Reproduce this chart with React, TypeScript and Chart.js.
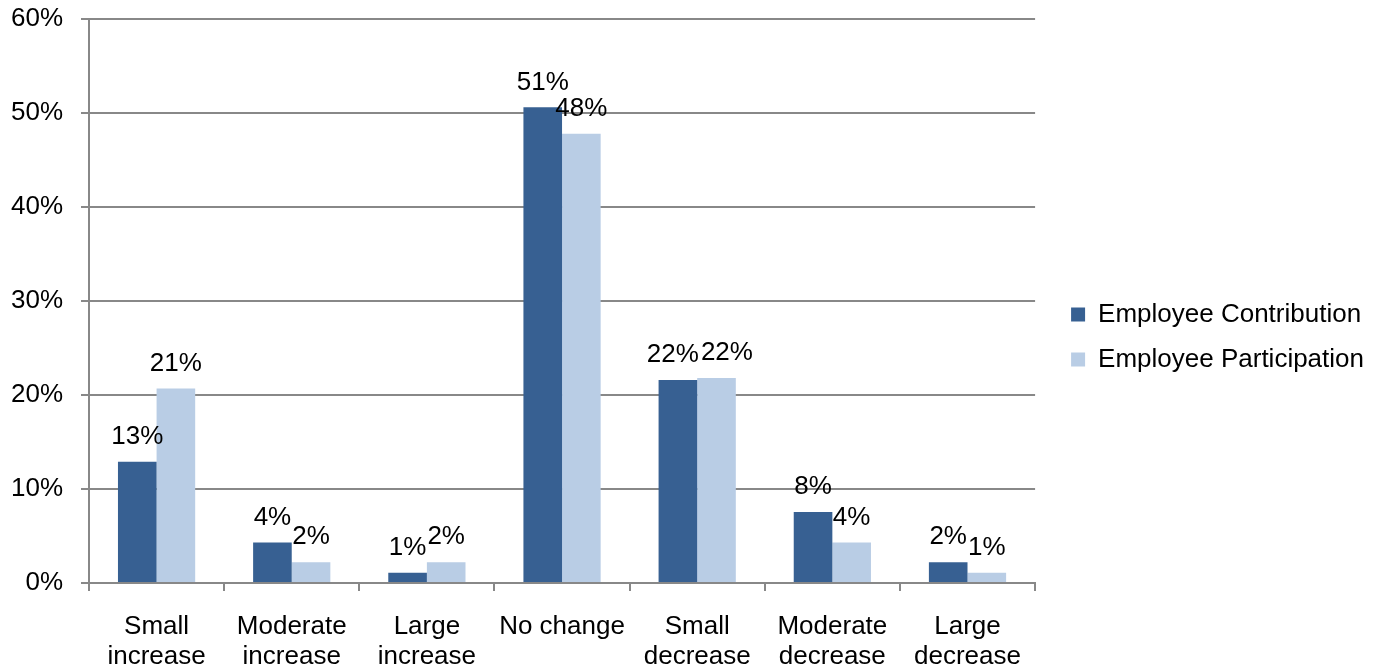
import React, { useEffect, useRef } from "react";
import { Chart, registerables } from "chart.js";

Chart.register(...registerables);

// Survey buckets along the x axis (each label split over two lines)
const categories: string[][] = [
  ["Small", "increase"],
  ["Moderate", "increase"],
  ["Large", "increase"],
  ["No change"],
  ["Small", "decrease"],
  ["Moderate", "decrease"],
  ["Large", "decrease"],
];

// Share of respondents (%) per bucket
const contributionValues: number[] = [12.9, 4.3, 1.1, 50.6, 21.6, 7.55, 2.2];
const participationValues: number[] = [20.7, 2.2, 2.2, 47.8, 21.8, 4.3, 1.1];

const seriesNames: string[] = ["Employee Contribution", "Employee Participation"];

// Percentage axis
const yTicks: number[] = [0, 10, 20, 30, 40, 50, 60];

const FONT = "'Liberation Sans', Arial, Helvetica, sans-serif";
const GRID = "#888888";
const LABEL_GAP = 25; // bar top to label centre
const LABEL_H = 20;

// Writes the rounded value above every bar; when the two labels of a
// category would collide, the pair is pushed apart sideways.
const barValueLabels = {
  id: "barValueLabels",
  afterDatasetsDraw(chart: any) {
    const ctx = chart.ctx;
    ctx.save();
    ctx.font = `26px ${FONT}`;
    ctx.fillStyle = "#000000";
    ctx.textAlign = "center";
    ctx.textBaseline = "middle";
    const metaA = chart.getDatasetMeta(0);
    const metaB = chart.getDatasetMeta(1);
    const dsA = chart.data.datasets[0].data as number[];
    const dsB = chart.data.datasets[1].data as number[];
    metaA.data.forEach((barA: any, i: number) => {
      const barB = metaB.data[i];
      const tA = `${Math.round(dsA[i])}%`;
      const tB = `${Math.round(dsB[i])}%`;
      const wA = ctx.measureText(tA).width;
      const wB = ctx.measureText(tB).width;
      let xA = barA.x;
      let xB = barB.x;
      const yA = barA.y - LABEL_GAP;
      const yB = barB.y - LABEL_GAP;
      const overlapX = xA + wA / 2 - (xB - wB / 2);
      const overlapY = Math.abs(yA - yB) < LABEL_H;
      if (overlapX > 0 && overlapY) {
        xA -= 5;
        xB = xA + wA / 2 + wB / 2 + 2;
      }
      ctx.fillText(tA, xA, yA);
      ctx.fillText(tB, xB, yB);
    });
    ctx.restore();
  },
};

// Leaves a gap between the plot area and the legend on the right
const legendGap = {
  id: "legendGap",
  afterLayout(chart: any) {
    if (chart.legend) {
      chart.legend.left += 17;
      chart.legend.right += 17;
      chart.legend.top -= 7;
      chart.legend.bottom -= 7;
    }
  },
};

export default function App() {
  const canvasRef = useRef<HTMLCanvasElement | null>(null);

  useEffect(() => {
    if (!canvasRef.current) return;
    Chart.defaults.font.family = FONT;
    Chart.defaults.font.size = 26;
    Chart.defaults.color = "#000000";

    const chart = new Chart(canvasRef.current, {
      type: "bar",
      data: {
        labels: categories,
        datasets: [
          {
            label: seriesNames[0],
            data: contributionValues,
            backgroundColor: "#376092",
            borderWidth: 0,
            categoryPercentage: 2 / 3.5,
            barPercentage: 1,
          },
          {
            label: seriesNames[1],
            data: participationValues,
            backgroundColor: "#B9CDE5",
            borderWidth: 0,
            categoryPercentage: 2 / 3.5,
            barPercentage: 1,
          },
        ],
      },
      options: {
        animation: false,
        responsive: true,
        maintainAspectRatio: false,
        layout: { padding: { left: 11, right: 27, top: 19, bottom: 0 } },
        plugins: {
          tooltip: { enabled: false },
          legend: {
            position: "right",
            labels: {
              boxWidth: 14,
              boxHeight: 14,
              padding: 19,
              color: "#000000",
              font: { size: 26, family: FONT },
            },
          },
        },
        scales: {
          x: {
            offset: true,
            afterFit(scale: any) {
              scale.height = 86;
              scale.paddingLeft = 0;
              scale.paddingRight = 0;
            },
            grid: {
              offset: true,
              drawOnChartArea: false,
              drawTicks: true,
              tickLength: 8,
              color: GRID,
              lineWidth: 2,
            },
            border: { color: GRID, width: 2 },
            ticks: {
              color: "#000000",
              padding: 21,
              maxRotation: 0,
              autoSkip: false,
              font: { size: 26, family: FONT, lineHeight: 1.15 },
            },
          },
          y: {
            min: yTicks[0],
            max: yTicks[yTicks.length - 1],
            afterBuildTicks(scale: any) {
              scale.ticks = yTicks.map((v) => ({ value: v }));
            },
            afterFit(scale: any) {
              scale.width = 78;
              scale.paddingTop = 0;
              scale.paddingBottom = 0;
            },
            grid: {
              color: GRID,
              lineWidth: 2,
              drawTicks: true,
              tickLength: 8,
            },
            border: { color: GRID, width: 2 },
            ticks: {
              color: "#000000",
              padding: 18,
              font: { size: 26, family: FONT },
              callback: (v: any) => `${v}%`,
            },
          },
        },
      },
      plugins: [barValueLabels, legendGap],
    });

    return () => chart.destroy();
  }, []);

  return (
    <div style={{ position: "fixed", left: 0, top: 0, width: "100vw", height: "100vh", background: "#ffffff" }}>
      <canvas ref={canvasRef} />
    </div>
  );
}
